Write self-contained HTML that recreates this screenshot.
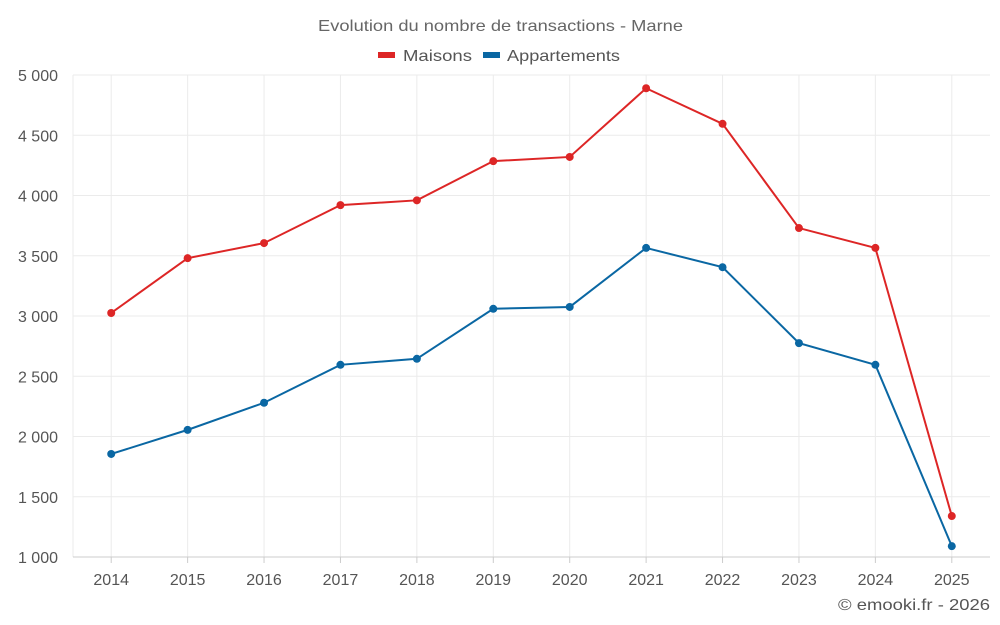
<!DOCTYPE html>
<html><head><meta charset="utf-8"><style>
body{margin:0;background:#fff;font-family:"Liberation Sans",sans-serif}
svg{display:block}
</style></head><body>
<svg id="chart" width="1000" height="625">
<text x="318" y="31" textLength="365" lengthAdjust="spacingAndGlyphs" font-size="16" fill="#666">Evolution du nombre de transactions - Marne</text>
<g><rect x="378" y="52" width="17" height="6" fill="#dd2626"/><text x="403" y="61" textLength="69" lengthAdjust="spacingAndGlyphs" font-size="16" fill="#555">Maisons</text></g>
<g><rect x="483" y="52" width="17" height="6" fill="#0a67a3"/><text x="507" y="61" textLength="113" lengthAdjust="spacingAndGlyphs" font-size="16" fill="#555">Appartements</text></g>
<g id="grid"></g><g id="axes"></g><g id="series"></g>
<text x="838" y="610" textLength="152" lengthAdjust="spacingAndGlyphs" font-size="16" fill="#555">© emooki.fr - 2026</text>
</svg>
<script>
const years=["2014","2015","2016","2017","2018","2019","2020","2021","2022","2023","2024","2025"];
const maisons=[3025,3480,3605,3920,3960,4285,4320,4890,4595,3730,3565,1340];
const appartements=[1855,2055,2280,2595,2645,3060,3075,3565,3405,2775,2595,1090];
const yTicks=[1000,1500,2000,2500,3000,3500,4000,4500,5000];
const yTickLabels=["1 000","1 500","2 000","2 500","3 000","3 500","4 000","4 500","5 000"];
const L=73,R=990,T=75,B=557,ymin=1000,ymax=5000;
const bw=(R-L)/years.length;
const x=i=>L+bw*(i+0.5);
const y=v=>B-(v-ymin)/(ymax-ymin)*(B-T);
const NS="http://www.w3.org/2000/svg";
function mk(tag,attrs,parent){const e=document.createElementNS(NS,tag);for(const k in attrs)e.setAttribute(k,attrs[k]);parent.appendChild(e);return e;}
const grid=document.getElementById('grid'),axes=document.getElementById('axes'),ser=document.getElementById('series');
yTicks.forEach((t,i)=>{
 const l=mk('line',{x1:L,x2:R,y1:y(t),y2:y(t),stroke:'#ebebeb','stroke-width':1},grid);
 
 
 const tx=mk('text',{x:58,y:y(t)+6,'text-anchor':'end','font-size':16,fill:'#555'},axes);
 tx.textContent=yTickLabels[i];
 
 
});
const gl=mk('line',{x1:L,x2:L,y1:T,y2:B,stroke:'#ebebeb'},grid);


years.forEach((yr,i)=>{
 const l=mk('line',{x1:x(i),x2:x(i),y1:T,y2:B,stroke:'#ebebeb'},grid);
 
 
 const tk=mk('line',{x1:x(i),x2:x(i),y1:B,y2:B+6,stroke:'#ccc'},axes);
 
 
 const tx=mk('text',{x:x(i),y:585,'text-anchor':'middle','font-size':16,fill:'#555'},axes);
 tx.textContent=yr;
 
 
});
const ax=mk('line',{x1:L,x2:R,y1:B,y2:B,stroke:'#ccc'},axes);


[[maisons,'#dd2626','maisons'],[appartements,'#0a67a3','appartements']].forEach(([d,c,n])=>{
 const p=mk('polyline',{points:d.map((v,i)=>x(i)+','+y(v)).join(' '),fill:'none',stroke:c,'stroke-width':2},ser);
 
 
 d.forEach((v,i)=>{
  const pt=mk('circle',{cx:x(i),cy:y(v),r:4,fill:c},ser);
  
  
 });
});
</script>
</body></html>
